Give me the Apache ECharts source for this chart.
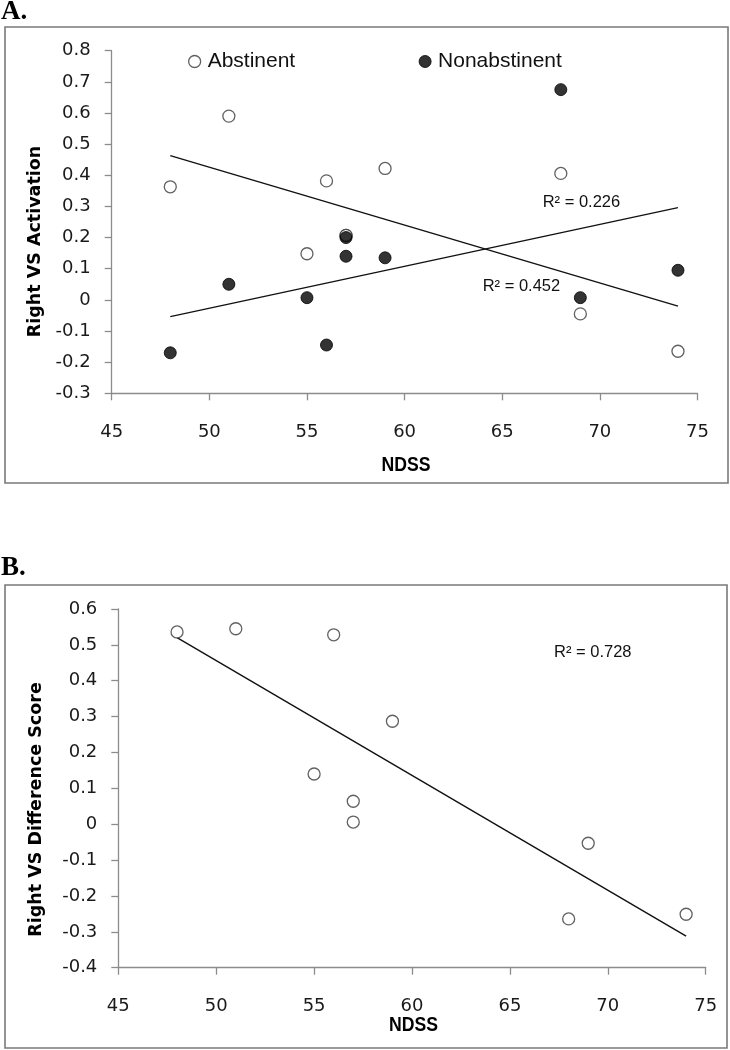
<!DOCTYPE html>
<html>
<head>
<meta charset="utf-8">
<script src="https://cdn.jsdelivr.net/npm/echarts@6/dist/echarts.min.js"></script>
<style>
html,body{margin:0;padding:0;background:#fff;}
#chart{width:730px;height:1050px;}
</style>
</head>
<body>
<div id="chart"></div>
<script>
// ---- data ----
const ndss = [48, 51, 55, 56, 57, 57, 59, 68, 69, 74];
const abstinent = [0.363, 0.59, 0.148, 0.382, 0.207, 0.207, 0.422, 0.406, -0.045, -0.165];
const nonabstinent = [-0.17, 0.05, 0.007, -0.145, 0.2, 0.14, 0.135, 0.675, 0.007, 0.095];
const diffScore = [0.536, 0.545, 0.14, 0.528, 0.064, 0.006, 0.287, -0.264, -0.053, -0.251];

const trendX = [48, 74];
const trendAbst = [0.463, -0.02];
const trendNonabst = [-0.054, 0.296];
const trendDiff = [0.52, -0.312];

const xRange = {min: 45, max: 75, interval: 5};
const yRangeA = {min: -0.3, max: 0.8, interval: 0.1};
const yRangeB = {min: -0.4, max: 0.6, interval: 0.1};

const r2Labels = ['R\u00b2 = 0.226', 'R\u00b2 = 0.452', 'R\u00b2 = 0.728'];
const seriesNames = ['Abstinent', 'Nonabstinent'];

// ---- chart ----
const pairs = (xs, ys) => xs.map((x, i) => [x, ys[i]]);
const fmtY = v => String(Math.round(v * 10) / 10);

const tickFont = {fontFamily: 'DejaVu Sans', fontSize: 18, color: '#1a1a1a'};
const axisGray = '#8c8c8c';

function xAxisCfg(gridIndex) {
  return {
    type: 'value', gridIndex, min: xRange.min, max: xRange.max, interval: xRange.interval,
    axisLine: {show: true, onZero: false, lineStyle: {color: axisGray, width: 1.3}},
    axisTick: {show: true, length: 7, lineStyle: {color: axisGray, width: 1.3}},
    axisLabel: Object.assign({margin: 30}, tickFont),
    splitLine: {show: false}
  };
}
function yAxisCfg(gridIndex, r) {
  return {
    type: 'value', gridIndex, min: r.min, max: r.max, interval: r.interval,
    axisLine: {show: true, onZero: false, lineStyle: {color: axisGray, width: 1.3}},
    axisTick: {show: true, length: 7, lineStyle: {color: axisGray, width: 1.3}},
    axisLabel: Object.assign({margin: 21, formatter: fmtY}, tickFont),
    splitLine: {show: false}
  };
}

const openStyle = {color: '#ffffff', borderColor: '#3a3a3a', borderWidth: 1.3};
const filledStyle = {color: '#000000', borderColor: '#000000', borderWidth: 1};
const trendStyle = {color: '#111111', width: 1.4};

const legendText = {fontFamily: 'Liberation Sans', fontSize: 21, color: '#111', padding: [0, 0, 0, 2]};

const titleNdss = {text: 'NDSS', fontFamily: 'Liberation Sans', fontWeight: 'bold', fontSize: 21, fill: '#000', align: 'center', verticalAlign: 'middle'};

const option = {
  animation: false,
  backgroundColor: '#ffffff',
  grid: [
    {left: 111.7, top: 50.7, width: 585.8, height: 342.6},
    {left: 118.3, top: 609, width: 587.4, height: 358.7}
  ],
  xAxis: [xAxisCfg(0), xAxisCfg(1)],
  yAxis: [yAxisCfg(0, yRangeA), yAxisCfg(1, yRangeB)],
  legend: [
    {left: 188, top: 51, padding: 0, itemWidth: 12, itemHeight: 12, itemGap: 0, textStyle: legendText,
     data: [{name: seriesNames[0], icon: 'circle', itemStyle: openStyle}]},
    {left: 418.6, top: 51, padding: 0, itemWidth: 12, itemHeight: 12, itemGap: 0, textStyle: legendText,
     data: [{name: seriesNames[1], icon: 'circle', itemStyle: filledStyle}]}
  ],
  series: [
    {name: 'trendAbst', type: 'line', xAxisIndex: 0, yAxisIndex: 0, symbol: 'none',
     data: pairs(trendX, trendAbst), lineStyle: trendStyle, z: 1},
    {name: 'trendNonabst', type: 'line', xAxisIndex: 0, yAxisIndex: 0, symbol: 'none',
     data: pairs(trendX, trendNonabst), lineStyle: trendStyle, z: 1},
    {name: seriesNames[0], type: 'scatter', xAxisIndex: 0, yAxisIndex: 0, symbol: 'circle', symbolSize: 12,
     data: pairs(ndss, abstinent), itemStyle: openStyle, z: 2},
    {name: seriesNames[1], type: 'scatter', xAxisIndex: 0, yAxisIndex: 0, symbol: 'circle', symbolSize: 12,
     data: pairs(ndss, nonabstinent), itemStyle: filledStyle, z: 3},
    {name: 'trendDiff', type: 'line', xAxisIndex: 1, yAxisIndex: 1, symbol: 'none',
     data: pairs(trendX, trendDiff), lineStyle: trendStyle, z: 1},
    {name: 'Difference', type: 'scatter', xAxisIndex: 1, yAxisIndex: 1, symbol: 'circle', symbolSize: 12,
     data: pairs(ndss, diffScore), itemStyle: openStyle, z: 2}
  ],
  graphic: [
    {type: 'rect', shape: {x: 5, y: 27, width: 723, height: 456}, style: {fill: 'none', stroke: '#7a7a7a', lineWidth: 1.6}, z: 0},
    {type: 'rect', shape: {x: 5, y: 585, width: 722, height: 463}, style: {fill: 'none', stroke: '#7a7a7a', lineWidth: 1.6}, z: 0},
    {type: 'text', x: 1, y: 11.7, style: {text: 'A.', fontFamily: 'Liberation Serif', fontWeight: 'bold', fontSize: 27, fill: '#000', verticalAlign: 'middle', align: 'left'}},
    {type: 'text', x: 1, y: 568, style: {text: 'B.', fontFamily: 'Liberation Serif', fontWeight: 'bold', fontSize: 27, fill: '#000', verticalAlign: 'middle', align: 'left'}},
    {type: 'text', x: 35, y: 241.5, rotation: Math.PI / 2, style: {text: 'Right VS Activation', fontFamily: 'DejaVu Sans', fontWeight: 'bold', fontSize: 17.5, fill: '#000', align: 'center', verticalAlign: 'middle'}},
    {type: 'text', x: 36, y: 809.5, rotation: Math.PI / 2, style: {text: 'Right VS Difference Score', fontFamily: 'DejaVu Sans', fontWeight: 'bold', fontSize: 17.5, fill: '#000', align: 'center', verticalAlign: 'middle'}},
    {type: 'text', x: 406, y: 465, scaleX: 0.84, style: titleNdss},
    {type: 'text', x: 413.5, y: 1025, scaleX: 0.84, style: titleNdss},
    {type: 'text', x: 542.7, y: 202.7, style: {text: r2Labels[0], fontFamily: 'Liberation Sans', fontSize: 16.5, fill: '#111', align: 'left', verticalAlign: 'middle'}},
    {type: 'text', x: 482.7, y: 286.7, style: {text: r2Labels[1], fontFamily: 'Liberation Sans', fontSize: 16.5, fill: '#111', align: 'left', verticalAlign: 'middle'}},
    {type: 'text', x: 554, y: 652, style: {text: r2Labels[2], fontFamily: 'Liberation Sans', fontSize: 16.5, fill: '#111', align: 'left', verticalAlign: 'middle'}}
  ]
};

const chart = echarts.init(document.getElementById('chart'), null, {renderer: 'canvas'});
chart.setOption(option);
</script>
</body>
</html>
